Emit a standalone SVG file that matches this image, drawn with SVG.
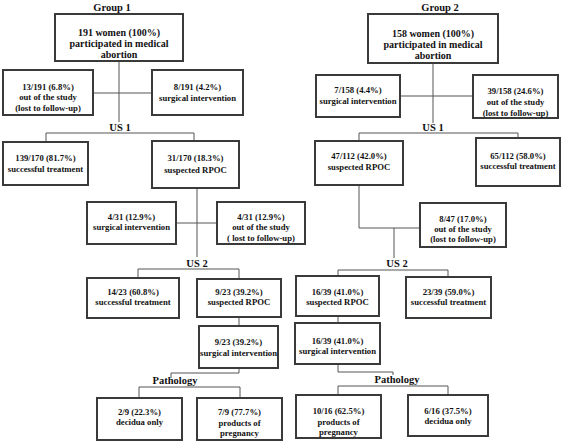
<svg xmlns="http://www.w3.org/2000/svg" width="562" height="441" viewBox="0 0 562 441">
<style>
.box{fill:#fff;stroke:#3a3a3a;stroke-width:2}
.t{font-family:"Liberation Serif","Times New Roman",serif;font-weight:bold;font-size:8.7px;text-anchor:middle;fill:#111}
.tb{font-family:"Liberation Serif","Times New Roman",serif;font-weight:bold;font-size:10px;text-anchor:middle;fill:#111}
.lab{font-family:"Liberation Serif","Times New Roman",serif;font-weight:bold;font-size:10.5px;text-anchor:middle;fill:#111}
.c{fill:none;stroke:#555;stroke-width:1}
</style>
<rect width="562" height="441" fill="#fff"/>
<g id="connectors" class="c">
<path d="M119 61V122M93 93H152"/>
<path d="M46 142V133H194V141"/>
<path d="M197 188V257M176 223H217"/>
<path d="M138 278V269H239V279"/>
<path d="M239 317V326"/>
<path d="M239 368V373H171V378"/>
<path d="M139 398V387H240V398"/>
<path d="M433 63V123M400 96H473"/>
<path d="M359 141V133H518V138"/>
<path d="M359 185V228H420M394 228V258"/>
<path d="M338 276V270H448V277"/>
<path d="M338 316V323"/>
<path d="M338 364V372H393V375"/>
<path d="M338 395V386H448V395"/>
</g>
<g id="labels">
<text class="lab" x="112" y="11">Group 1</text>
<text class="lab" x="440" y="11">Group 2</text>
<text class="lab" x="120" y="131">US 1</text>
<text class="lab" x="433" y="131">US 1</text>
<text class="lab" x="197" y="267">US 2</text>
<text class="lab" x="397" y="267">US 2</text>
<text class="lab" x="175" y="384">Pathology</text>
<text class="lab" x="397" y="383">Pathology</text>
</g>
<g id="g1_top"><rect class="box" x="55" y="14" width="128" height="47"/>
<text class="tb" x="119" y="36">191 women (100%)</text><text class="tb" x="119" y="47">participated in medical</text><text class="tb" x="119" y="58">abortion</text></g>
<g id="g1_lost"><rect class="box" x="3" y="70" width="90" height="45"/>
<text class="t" x="48" y="90">13/191 (6.8%)</text><text class="t" x="48" y="100">out of the study</text><text class="t" x="48" y="111">(lost to follow-up)</text></g>
<g id="g1_surg"><rect class="box" x="152" y="70" width="91" height="45"/>
<text class="t" x="197.5" y="90">8/191 (4.2%)</text><text class="t" x="197.5" y="101">surgical intervention</text></g>
<g id="g1_succ1"><rect class="box" x="3" y="142" width="85" height="43"/>
<text class="t" x="45.5" y="161">139/170 (81.7%)</text><text class="t" x="45.5" y="172">successful treatment</text></g>
<g id="g1_rpoc1"><rect class="box" x="152" y="141" width="87" height="47"/>
<text class="t" x="195.5" y="161">31/170 (18.3%)</text><text class="t" x="195.5" y="173">suspected RPOC</text></g>
<g id="g1_surg2"><rect class="box" x="87" y="202" width="89" height="42"/>
<text class="t" x="131.5" y="220">4/31 (12.9%)</text><text class="t" x="131.5" y="230">surgical intervention</text></g>
<g id="g1_lost2"><rect class="box" x="217" y="202" width="88" height="42"/>
<text class="t" x="261" y="220">4/31 (12.9%)</text><text class="t" x="261" y="230">out of the study</text><text class="t" x="261" y="241">( lost to follow-up)</text></g>
<g id="g1_succ2"><rect class="box" x="87" y="278" width="92" height="40"/>
<text class="t" x="133" y="295">14/23 (60.8%)</text><text class="t" x="133" y="305">successful treatment</text></g>
<g id="g1_rpoc2"><rect class="box" x="197" y="279" width="84" height="38"/>
<text class="t" x="239" y="295">9/23 (39.2%)</text><text class="t" x="239" y="305">suspected RPOC</text></g>
<g id="g1_surg3"><rect class="box" x="199" y="326" width="79" height="42"/>
<text class="t" x="238.5" y="345">9/23 (39.2%)</text><text class="t" x="238.5" y="356">surgical intervention</text></g>
<g id="g1_dec"><rect class="box" x="97" y="398" width="85" height="42"/>
<text class="t" x="139.5" y="415">2/9 (22.3%)</text><text class="t" x="139.5" y="425">decidua only</text></g>
<g id="g1_prod"><rect class="box" x="197" y="398" width="85" height="42"/>
<text class="t" x="239.5" y="415">7/9 (77.7%)</text><text class="t" x="239.5" y="426">products of</text><text class="t" x="239.5" y="436">pregnancy</text></g>
<g id="g2_top"><rect class="box" x="368" y="14" width="130" height="49"/>
<text class="tb" x="433" y="37">158 women (100%)</text><text class="tb" x="433" y="48">participated in medical</text><text class="tb" x="433" y="59">abortion</text></g>
<g id="g2_surg"><rect class="box" x="316" y="75" width="84" height="42"/>
<text class="t" x="358" y="93">7/158 (4.4%)</text><text class="t" x="358" y="104">surgical intervention</text></g>
<g id="g2_lost"><rect class="box" x="473" y="75" width="85" height="43"/>
<text class="t" x="515.5" y="94">39/158 (24.6%)</text><text class="t" x="515.5" y="105">out of the study</text><text class="t" x="515.5" y="116">(lost to follow-up)</text></g>
<g id="g2_rpoc1"><rect class="box" x="315" y="141" width="88" height="44"/>
<text class="t" x="359" y="159">47/112 (42.0%)</text><text class="t" x="359" y="170">suspected RPOC</text></g>
<g id="g2_succ1"><rect class="box" x="476" y="138" width="84" height="48"/>
<text class="t" x="518" y="159">65/112 (58.0%)</text><text class="t" x="518" y="169">successful treatment</text></g>
<g id="g2_lost2"><rect class="box" x="420" y="203" width="86" height="44"/>
<text class="t" x="463" y="222">8/47 (17.0%)</text><text class="t" x="463" y="232">out of the study</text><text class="t" x="463" y="242">(lost to follow-up)</text></g>
<g id="g2_rpoc2"><rect class="box" x="296" y="276" width="83" height="40"/>
<text class="t" x="337.5" y="295">16/39 (41.0%)</text><text class="t" x="337.5" y="305">suspected RPOC</text></g>
<g id="g2_succ2"><rect class="box" x="406" y="277" width="85" height="41"/>
<text class="t" x="448.5" y="295">23/39 (59.0%)</text><text class="t" x="448.5" y="305">successful treatment</text></g>
<g id="g2_surg2"><rect class="box" x="295" y="323" width="85" height="41"/>
<text class="t" x="337.5" y="344">16/39 (41.0%)</text><text class="t" x="337.5" y="354">surgical intervention</text></g>
<g id="g2_prod"><rect class="box" x="296" y="395" width="85" height="43"/>
<text class="t" x="338.5" y="414">10/16 (62.5%)</text><text class="t" x="338.5" y="425">products of</text><text class="t" x="338.5" y="435">pregnancy</text></g>
<g id="g2_dec"><rect class="box" x="408" y="395" width="80" height="41"/>
<text class="t" x="448" y="414">6/16 (37.5%)</text><text class="t" x="448" y="424">decidua only</text></g>
</svg>
